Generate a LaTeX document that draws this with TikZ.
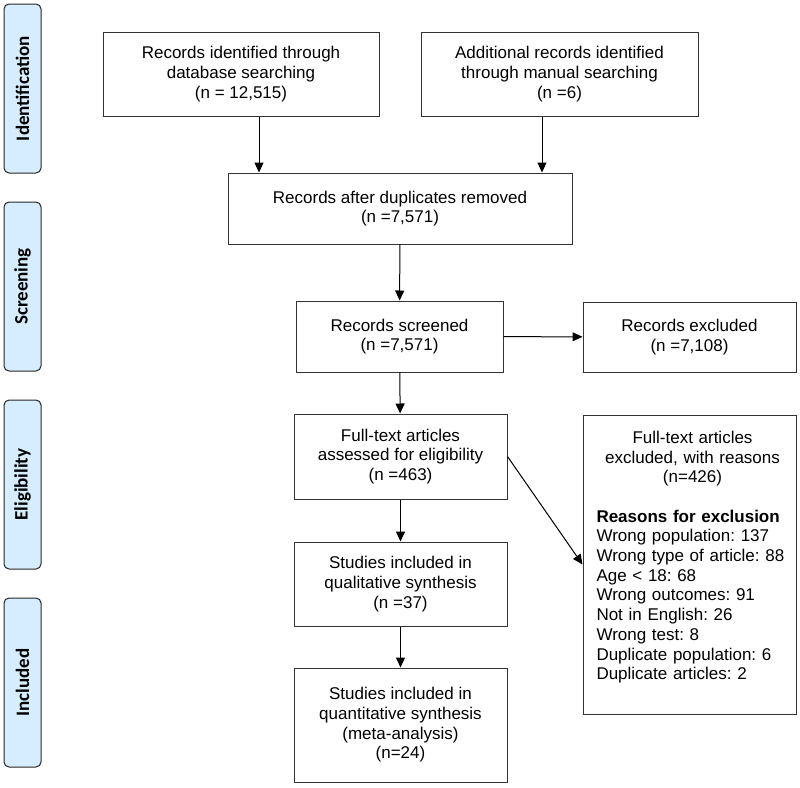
\documentclass[tikz,border=0pt]{standalone}
\usepackage{fontspec}
\setmainfont{Liberation Sans}
\newfontfamily\sidefont{Carlito}
\usepackage{xcolor}
\usepackage{tikz}
\usetikzlibrary{arrows.meta}
\frenchspacing

\definecolor{stagefill}{HTML}{D5EDFE}

\tikzset{
	box/.style = {draw = black!80, line width = 1pt, align = center, inner sep = 0pt,
		font = \fontsize{17}{19.7}\selectfont},
	stage/.style = {draw = black!85, line width = 1pt, fill = stagefill, rounded corners = 5pt,
		rotate = 90, minimum width = 169pt, minimum height = 37pt, inner sep = 0pt,
		font = \sidefont\bfseries\fontsize{19}{22}\selectfont},
	flow/.style = {-{Triangle[length = 10pt, width = 9pt]}, line width = 1pt}
}

\begin{document}
\begin{tikzpicture}[x = 1pt, y = -1pt]
							\useasboundingbox (0,0) rectangle (800,787);
				
							% stages on the left
							\foreach \name/\y/\lbl in {ident/88.5/Identification, screen/286.5/Screening, elig/484.5/Eligibility, incl/682.5/Included}
							{
								\node [stage] (\name) at (22.5,\y) {\lbl};
							}
				
							% boxes
							\node [box, minimum width = 276pt, minimum height = 84pt] (db) at (241,74)
								{Records identified through\\database searching\\(n = 12,515)};
							\node [box, minimum width = 277pt, minimum height = 84pt] (manual) at (559.5,74)
								{Additional records identified\\through manual searching\\(n =6)};
							\node [box, minimum width = 344pt, minimum height = 71pt] (dup) at (400,208.5)
								{Records after duplicates removed\\(n =7,571)};
							\node [box, minimum width = 207pt, minimum height = 71pt] (screened) at (399.5,336.5)
								{Records screened\\(n =7,571)};
							\node [box, minimum width = 213pt, minimum height = 70pt] (excluded) at (689.5,337)
								{Records excluded\\(n =7,108)};
							\node [box, minimum width = 213pt, minimum height = 85pt] (fulltext) at (400.5,456.5)
								{Full-text articles\\assessed for eligibility\\(n =463)};
							\node [box, minimum width = 213pt, minimum height = 84pt] (qual) at (400.5,584)
								{Studies included in\\qualitative synthesis\\(n =37)};
							\node [box, minimum width = 213pt, minimum height = 114pt] (meta) at (400.5,725)
								{Studies included in\\quantitative synthesis\\(meta-analysis)\\(n=24)};
							\node [box, minimum width = 213pt, minimum height = 299pt] (ftexcl) at (689.5,564.5) {};
							\node [box, draw = none, anchor = north, text width = 192pt, align = left] (ftexcltxt)
								at ([xshift = 3pt, yshift = -16pt]ftexcl.north)
								{{\centering Full-text articles\\excluded, with reasons\\(n=426)\par}
								\vspace{\baselineskip}
								\textbf{Reasons for exclusion}\\
								Wrong population: 137\\
								Wrong type of article: 88\\
								Age < 18: 68\\
								Wrong outcomes: 91\\
								Not in English: 26\\
								Wrong test: 8\\
								Duplicate population: 6\\
								Duplicate articles: 2};
				
							% arrows
							\draw [flow] ([xshift = 18pt]db.south) -- ([xshift = 18pt]db.south |- dup.north);
							\draw [flow] ([xshift = -17.5pt]manual.south) -- ([xshift = -17.5pt]manual.south |- dup.north);
							\draw [flow] (dup) -- (screened);
							\draw [flow] (screened) -- (excluded);
							\draw [flow] (screened) -- (fulltext);
							\draw [flow] (fulltext.east) -- (ftexcl.west);
							\draw [flow] (fulltext) -- (qual);
							\draw [flow] (qual) -- (meta);
						\end{tikzpicture}
\end{document}
